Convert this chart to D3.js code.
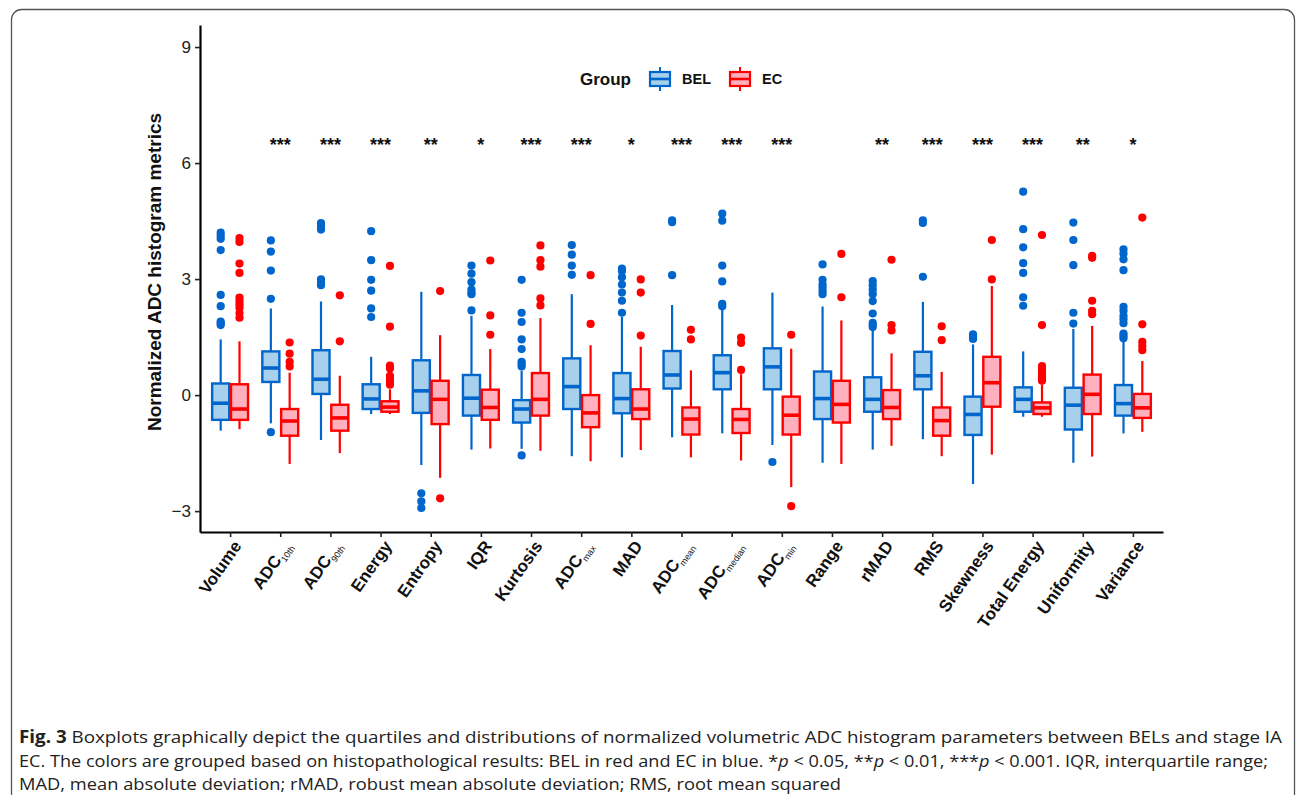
<!DOCTYPE html>
<meta charset="utf-8">
<head>
<style>
  body { margin: 0; background: #fff; }
  svg text { font-family: "Liberation Sans", Arial, sans-serif; }
</style>
</head>
<body>
<div id="chart"></div>
<script src="https://d3js.org/d3.v7.min.js"></script>
<script>
// categories and their x labels (main text + optional subscript)
const categories = ["Volume", "ADC10th", "ADC90th", "Energy", "Entropy", "IQR", "Kurtosis", "ADCmax", "MAD",
  "ADCmean", "ADCmedian", "ADCmin", "Range", "rMAD", "RMS", "Skewness", "Total Energy", "Uniformity", "Variance"];
const labelMain = ["Volume", "ADC", "ADC", "Energy", "Entropy", "IQR", "Kurtosis", "ADC", "MAD",
  "ADC", "ADC", "ADC", "Range", "rMAD", "RMS", "Skewness", "Total Energy", "Uniformity", "Variance"];
const labelSub = ["", "10th", "90th", "", "", "", "", "max", "", "mean", "median", "min", "", "", "", "", "", "", ""];
const sigLabels = ["", "***", "***", "***", "**", "*", "***", "***", "*", "***", "***", "***", "", "**", "***", "***", "***", "**", "*"];

const groups = ["BEL", "EC"];
const yTicks = [-3, 0, 3, 6, 9];

// [lower whisker, Q1, median, Q3, upper whisker]
const belBoxes = [
  [-0.92, -0.64, -0.21, 0.30, 1.44], [-0.73, 0.34, 0.70, 1.13, 2.24], [-1.16, 0.03, 0.41, 1.16, 2.42],
  [-0.49, -0.36, -0.10, 0.28, 0.99], [-1.81, -0.46, 0.11, 0.90, 2.67], [-1.41, -0.53, -0.08, 0.52, 2.05],
  [-1.39, -0.71, -0.36, -0.13, 0.63], [-1.58, -0.36, 0.22, 0.95, 2.61], [-1.61, -0.47, -0.09, 0.57, 2.02],
  [-1.09, 0.17, 0.52, 1.14, 2.33], [-0.99, 0.15, 0.58, 1.03, 2.22], [-1.29, 0.15, 0.73, 1.21, 2.65],
  [-1.75, -0.62, -0.09, 0.61, 2.29], [-1.41, -0.43, -0.11, 0.46, 1.70], [-1.14, 0.15, 0.50, 1.12, 2.41],
  [-2.30, -1.03, -0.50, -0.04, 1.31], [-0.56, -0.43, -0.11, 0.20, 1.13], [-1.75, -0.89, -0.26, 0.19, 1.71],
  [-0.99, -0.53, -0.22, 0.26, 1.38]
];
const ecBoxes = [
  [-0.88, -0.64, -0.36, 0.28, 1.39], [-1.78, -1.05, -0.67, -0.36, 0.58], [-1.50, -0.92, -0.59, -0.25, 0.50],
  [-0.49, -0.43, -0.31, -0.16, 0.15], [-2.14, -0.75, -0.11, 0.37, 1.55], [-1.38, -0.64, -0.32, 0.14, 1.19],
  [-1.44, -0.53, -0.11, 0.57, 1.99], [-1.71, -0.83, -0.46, 0.00, 1.29], [-1.42, -0.62, -0.36, 0.15, 1.25],
  [-1.61, -1.02, -0.62, -0.32, 0.64], [-1.69, -0.98, -0.63, -0.36, 0.54], [-2.38, -1.02, -0.52, -0.04, 1.20],
  [-1.78, -0.71, -0.24, 0.37, 1.93], [-1.31, -0.62, -0.32, 0.13, 1.08], [-1.58, -1.05, -0.66, -0.32, 0.60],
  [-1.54, -0.30, 0.32, 0.99, 2.82], [-0.56, -0.49, -0.33, -0.19, 0.26], [-1.59, -0.49, 0.02, 0.53, 1.79],
  [-0.95, -0.59, -0.33, 0.03, 0.88]
];
const belOutliers = [
  [4.20, 4.12, 4.04, 3.75, 2.59, 2.30, 1.90, 1.86, 1.81], [4.00, 3.71, 3.22, 2.49, -0.96],
  [4.45, 4.37, 4.28, 2.99, 2.91, 2.84], [4.24, 3.49, 2.98, 2.70, 2.24, 2.02], [-2.54, -2.75, -2.92],
  [3.35, 3.14, 2.92, 2.73, 2.65, 2.61, 2.19], [2.98, 2.13, 1.89, 1.44, 1.19, 0.86, 0.80, 0.74, -1.56],
  [3.88, 3.63, 3.35, 3.11], [3.27, 3.21, 3.05, 2.86, 2.65, 2.44, 2.13], [4.52, 4.47, 3.10],
  [4.69, 4.51, 3.35, 2.94, 2.36, 2.30], [-1.73], [3.38, 2.98, 2.86, 2.78, 2.69, 2.61],
  [2.95, 2.84, 2.73, 2.61, 2.43, 2.11, 1.87, 1.81, 1.76], [4.52, 4.45, 3.06], [1.57, 1.51, 1.45],
  [5.26, 4.29, 3.82, 3.41, 3.16, 2.53, 2.31], [4.46, 4.01, 3.36, 2.13, 1.85],
  [3.77, 3.66, 3.51, 3.23, 2.28, 2.18, 2.05, 1.96, 1.86, 1.59, 1.53, 1.47]
];
const ecOutliers = [
  [4.06, 3.96, 3.40, 3.16, 2.52, 2.43, 2.35, 2.26, 2.12, 2.00], [1.36, 1.07, 0.86, 0.74], [2.58, 1.39],
  [3.34, 1.77, 0.76, 0.69, 0.50, 0.44, 0.35, 0.27], [2.69, -2.67], [3.48, 2.06, 1.56],
  [3.87, 3.49, 3.32, 2.50, 2.32], [3.10, 1.84], [2.99, 2.65, 1.54], [1.69, 1.44], [1.49, 1.35, 0.65],
  [1.56, -2.87], [3.65, 2.53], [3.50, 1.81, 1.67], [1.78, 1.42], [4.01, 2.99],
  [4.14, 1.81, 0.75, 0.69, 0.63, 0.56, 0.49, 0.43, 0.37], [3.60, 3.55, 2.44, 2.18, 2.09],
  [4.59, 1.83, 1.38, 1.27, 1.16]
];

const captionLines = [
  [{t: "Fig. 3", b: true}, {t: "  Boxplots graphically depict the quartiles and distributions of normalized volumetric ADC histogram parameters between BELs and stage IA"}],
  [{t: "EC. The colors are grouped based on histopathological results: BEL in red and EC in blue. *"}, {t: "p", i: true}, {t: " < 0.05, **"}, {t: "p", i: true}, {t: " < 0.01, ***"}, {t: "p", i: true}, {t: " < 0.001. IQR, interquartile range;"}],
  [{t: "MAD, mean absolute deviation; rMAD, robust mean absolute deviation; RMS, root mean squared"}]
];
const captionWidths = [1263, 1249, 822];

// styles
const strokeCol = {BEL: "#0066cc", EC: "#ff0000"};
const fillCol = {BEL: "#a6d0ec", EC: "#ffb0be"};

const W = 1296, H = 795;
const panel = {left: 200, right: 1163, top: 25, bottom: 532};

const svg = d3.select("#chart").append("svg").attr("width", W).attr("height", H);

// frame around figure
svg.append("rect").attr("x", 11.5).attr("y", 9.5).attr("width", 1283).attr("height", 830)
  .attr("rx", 10).attr("fill", "none").attr("stroke", "#555").attr("stroke-width", 1.3);

const x = d3.scalePoint().domain(categories).range([panel.left, panel.right]).padding(0.6);
const y = d3.scaleLinear().domain([-3.54, 9.57]).range([panel.bottom, panel.top]);
const step = x.step();
const dodge = {BEL: -0.1875 * step, EC: 0.1875 * step};
const boxW = 0.34 * step;

// axes
const yAxis = svg.append("g").attr("transform", `translate(${panel.left},0)`)
  .call(d3.axisLeft(y).tickValues(yTicks).tickSize(5).tickSizeOuter(0).tickPadding(4));
yAxis.selectAll("text").attr("font-size", 17).attr("fill", "#222");
const xAxis = svg.append("g").attr("transform", `translate(0,${panel.bottom})`)
  .call(d3.axisBottom(x).tickSize(5).tickSizeOuter(0).tickFormat(""));
svg.selectAll(".domain").attr("stroke", "#000").attr("stroke-width", 2.2);
svg.selectAll(".tick line").attr("stroke", "#222").attr("stroke-width", 1.6);

// x labels rotated
categories.forEach((c, i) => {
  const t = svg.append("text")
    .attr("transform", `translate(${x(c) + 2},${panel.bottom + 7}) rotate(-55)`)
    .attr("text-anchor", "end").attr("dy", "0.72em")
    .attr("font-size", 17).attr("font-weight", "bold").attr("fill", "#111");
  t.append("tspan").text(labelMain[i]);
  if (labelSub[i]) {
    t.append("tspan").attr("font-size", 9).attr("font-weight", "normal").attr("dy", 4).text(labelSub[i]);
  }
});

// y title
svg.append("text").attr("transform", `translate(${161},${272}) rotate(-90)`)
  .attr("text-anchor", "middle").attr("font-size", 19).attr("font-weight", "bold").attr("fill", "#111")
  .text("Normalized ADC histogram metrics");

// boxplots
function drawGroup(g, boxes, outliers) {
  const layer = svg.append("g");
  categories.forEach((c, i) => {
    const cx = x(c) + dodge[g];
    const [lo, q1, med, q3, hi] = boxes[i];
    layer.append("line").attr("x1", cx).attr("x2", cx).attr("y1", y(hi)).attr("y2", y(q3))
      .attr("stroke", strokeCol[g]).attr("stroke-width", 2.2);
    layer.append("line").attr("x1", cx).attr("x2", cx).attr("y1", y(q1)).attr("y2", y(lo))
      .attr("stroke", strokeCol[g]).attr("stroke-width", 2.2);
    layer.append("rect").attr("x", cx - boxW / 2).attr("width", boxW)
      .attr("y", y(q3)).attr("height", y(q1) - y(q3))
      .attr("fill", fillCol[g]).attr("stroke", strokeCol[g]).attr("stroke-width", 2.4);
    layer.append("line").attr("x1", cx - boxW / 2).attr("x2", cx + boxW / 2).attr("y1", y(med)).attr("y2", y(med))
      .attr("stroke", strokeCol[g]).attr("stroke-width", 3.6);
    layer.selectAll(null).data(outliers[i]).enter().append("circle")
      .attr("cx", cx).attr("cy", d => y(d)).attr("r", 4.1).attr("fill", strokeCol[g]);
  });
}
drawGroup("BEL", belBoxes, belOutliers);
drawGroup("EC", ecBoxes, ecOutliers);

// significance stars
svg.append("g").selectAll("text").data(categories).enter().append("text")
  .attr("x", d => x(d)).attr("y", y(6.3)).attr("text-anchor", "middle")
  .attr("font-size", 18).attr("font-weight", "bold").attr("fill", "#111")
  .text((d, i) => sigLabels[i]);

// legend
const leg = svg.append("g");
leg.append("text").attr("x", 580).attr("y", 85).attr("font-size", 17).attr("font-weight", "bold").attr("fill", "#111").text("Group");
const legX = d3.scaleOrdinal().domain(groups).range([660, 740]);
groups.forEach(g => {
  const cx = legX(g);
  leg.append("line").attr("x1", cx).attr("x2", cx).attr("y1", 67).attr("y2", 91).attr("stroke", strokeCol[g]).attr("stroke-width", 2);
  leg.append("rect").attr("x", cx - 10).attr("y", 72).attr("width", 20).attr("height", 14)
    .attr("fill", fillCol[g]).attr("stroke", strokeCol[g]).attr("stroke-width", 2.2);
  leg.append("line").attr("x1", cx - 10).attr("x2", cx + 10).attr("y1", 79).attr("y2", 79).attr("stroke", strokeCol[g]).attr("stroke-width", 2.6);
  leg.append("text").attr("x", cx + 22).attr("y", 84).attr("font-size", 14.5).attr("font-weight", "bold").attr("fill", "#111").text(g);
});

// caption
captionLines.forEach((parts, li) => {
  const t = svg.append("text").attr("x", 19).attr("y", 743 + li * 23.5)
    .attr("font-size", 17).attr("fill", "#222")
    .style("font-family", "'Open Sans', 'Noto Sans', sans-serif")
    .attr("textLength", captionWidths[li]).attr("lengthAdjust", "spacingAndGlyphs");
  parts.forEach(p => {
    const s = t.append("tspan").text(p.t);
    if (p.b) s.attr("font-weight", "bold");
    if (p.i) s.attr("font-style", "italic");
  });
});
</script>
</body>
